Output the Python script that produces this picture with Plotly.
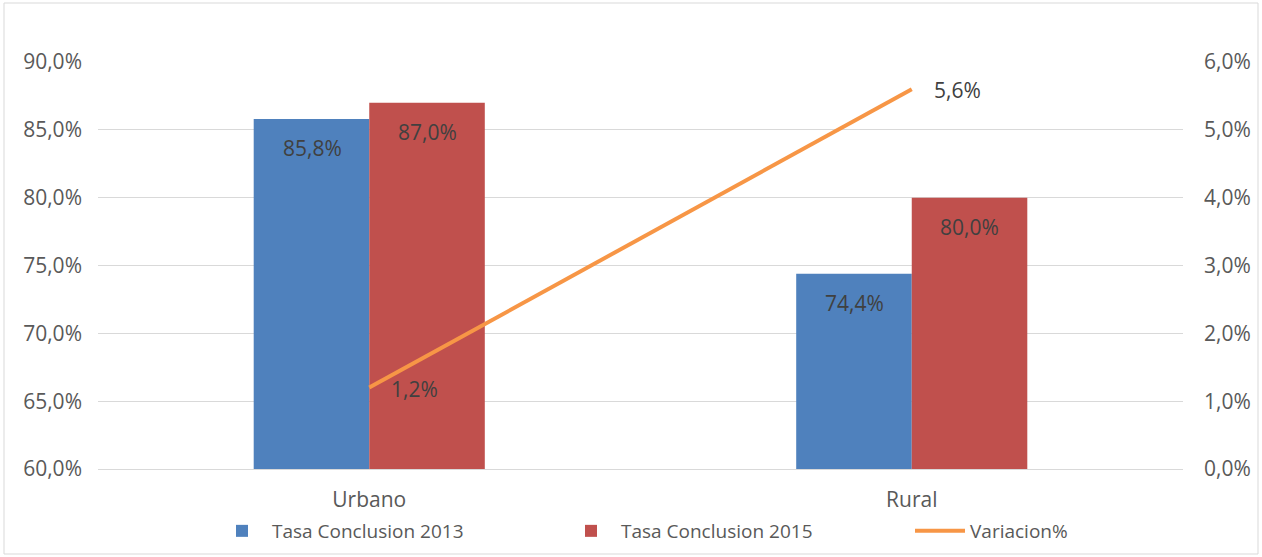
import plotly.graph_objects as go

categories = ["Urbano", "Rural"]
tasa_2013 = [0.858, 0.744]
tasa_2015 = [0.870, 0.800]
variacion = [0.012, 0.056]

W, H = 1262, 557
L, R, T, B = 98, 79, 62, 88
pw, ph = W - L - R, H - T - B

FAM = "Open Sans, Liberation Sans, sans-serif"
GRAY = "#595959"
DARK = "#404040"
FS = 21

def fmt(v):
    return f"{v*100:.1f}%".replace(".", ",")

fig = go.Figure()
fig.add_trace(go.Bar(
    x=categories, y=tasa_2013, name="Tasa Conclusion 2013",
    marker=dict(color="#4F81BD", line=dict(width=0)),
    offsetgroup="a",
))
fig.add_trace(go.Bar(
    x=categories, y=tasa_2015, name="Tasa Conclusion 2015",
    marker=dict(color="#C0504D", line=dict(width=0)),
    offsetgroup="b",
))
fig.add_trace(go.Scatter(
    x=categories, y=variacion, name="Variacion%", yaxis="y2",
    mode="lines", line=dict(color="#F79646", width=4),
))

annotations = []
for cat, v in zip(categories, tasa_2013):
    annotations.append(dict(x=cat, y=v, xref="x", yref="y", text=fmt(v), showarrow=False,
                            xshift=-57, yshift=-29, font=dict(family=FAM, size=FS, color=DARK)))
for cat, v in zip(categories, tasa_2015):
    annotations.append(dict(x=cat, y=v, xref="x", yref="y", text=fmt(v), showarrow=False,
                            xshift=58, yshift=-29, font=dict(family=FAM, size=FS, color=DARK)))
for cat, v in zip(categories, variacion):
    annotations.append(dict(x=cat, y=v, xref="x", yref="y2", text=fmt(v), showarrow=False,
                            xanchor="left", xshift=20, yshift=-1,
                            font=dict(family=FAM, size=FS, color=DARK)))

fig.update_layout(
    width=W, height=H,
    margin=dict(l=L, r=R, t=T, b=B, autoexpand=False),
    paper_bgcolor="white", plot_bgcolor="white",
    separators=",.",
    font=dict(family=FAM, size=FS, color=GRAY),
    barmode="group", bargap=0.574, bargroupgap=0,
    xaxis=dict(showgrid=False, showline=True, linecolor="#D9D9D9", ticks="",
               automargin=False, ticklabelstandoff=12,
               tickfont=dict(family=FAM, size=FS, color=GRAY)),
    yaxis=dict(range=[0.6, 0.9], dtick=0.05, tickformat=".1%",
               gridcolor="#D9D9D9", gridwidth=1, zeroline=False, automargin=False,
               ticks="", ticklabelstandoff=15, tickfont=dict(family=FAM, size=FS, color=GRAY)),
    yaxis2=dict(range=[0, 0.06], dtick=0.01, tickformat=".1%", overlaying="y",
                side="right", showgrid=False, zeroline=False, automargin=False,
                ticks="", ticklabelstandoff=20, tickfont=dict(family=FAM, size=FS, color=GRAY)),
    legend=dict(orientation="h", x=(212 - L) / pw, xanchor="left", y=-(512 - 469) / ph,
                yanchor="top", font=dict(family=FAM, size=19, color=GRAY),
                traceorder="normal", itemwidth=50, entrywidth=284, entrywidthmode="pixels",
                bgcolor="rgba(0,0,0,0)"),
    showlegend=True,
    annotations=annotations,
    shapes=[dict(type="rect", xref="paper", yref="paper",
                 x0=(4 - L) / pw, x1=(W - 4 - L) / pw,
                 y0=-(B - 3) / ph, y1=(H - B - 3) / ph,
                 line=dict(color="#D9D9D9", width=1), layer="below")],
)

fig.write_html("out.html", config={"displayModeBar": False},
               post_script="document.body.style.margin='0';document.body.style.overflow='hidden';")
